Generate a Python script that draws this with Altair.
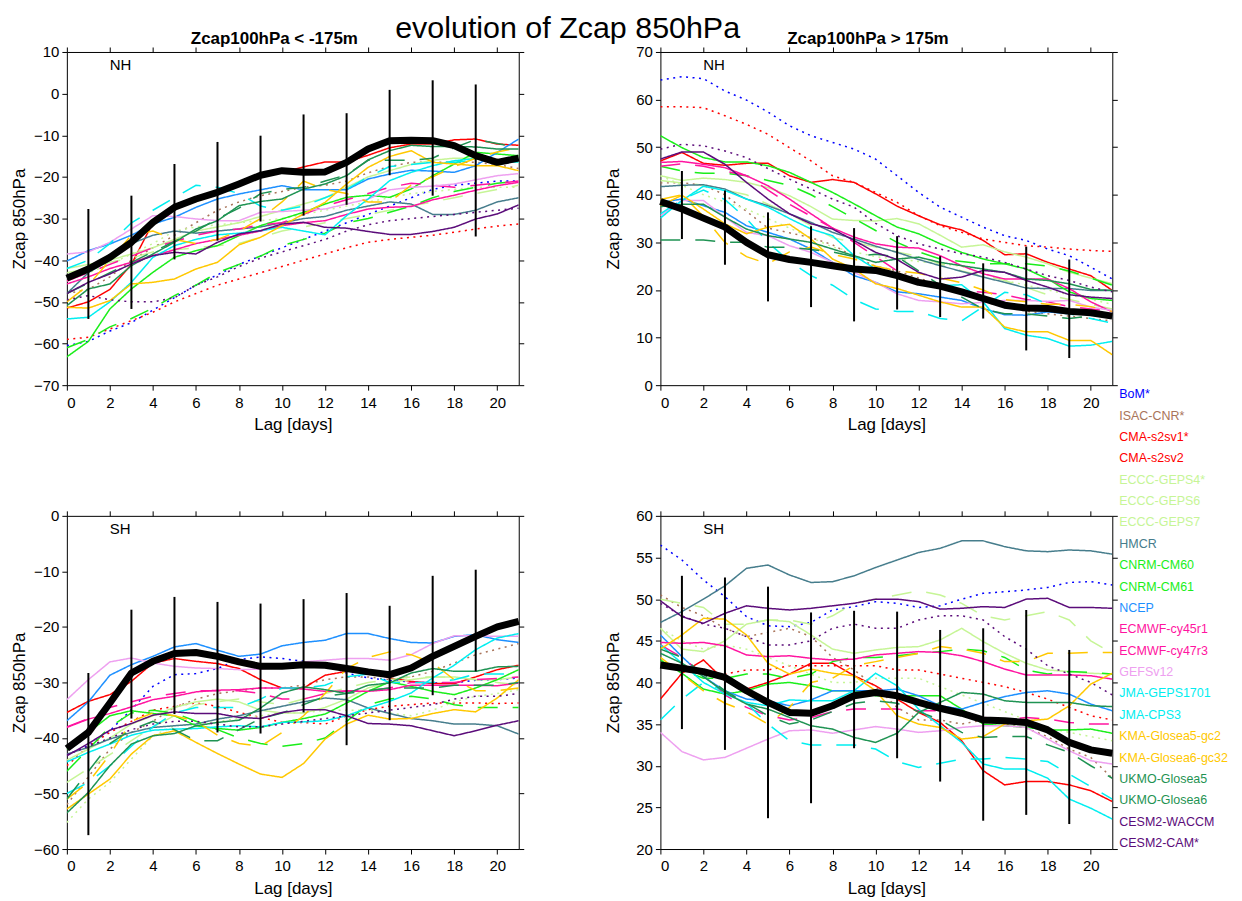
import altair as alt
import pandas as pd

MODELS = ["BoM*", "ISAC-CNR*", "CMA-s2sv1*", "CMA-s2sv2", "ECCC-GEPS4*", "ECCC-GEPS6",
          "ECCC-GEPS7", "HMCR", "CNRM-CM60", "CNRM-CM61", "NCEP", "ECMWF-cy45r1",
          "ECMWF-cy47r3", "GEFSv12", "JMA-GEPS1701", "JMA-CPS3", "KMA-Glosea5-gc2",
          "KMA-Glosea6-gc32", "UKMO-Glosea5", "UKMO-Glosea6", "CESM2-WACCM", "CESM2-CAM*"]
COLORS = ["#0000ff", "#a9745a", "#ff0000", "#ff0000", "#c6f596", "#c6f596", "#c6f596",
          "#467d8c", "#1aee1a", "#1aee1a", "#1e90ff", "#ff14a0", "#ff14a0", "#eea0f0",
          "#00eef0", "#00eef0", "#ffc800", "#ffc800", "#1f9353", "#1f9353", "#5b0c7a", "#5b0c7a"]
STYLE = ["dot", "dot", "dot", "solid", "dot", "dash", "solid", "solid", "dash", "solid", "solid",
         "dash", "solid", "solid", "dash", "solid", "dash", "solid", "dash", "solid", "solid", "dot"]

LAGS = list(range(22))
ERR_LAGS = [1, 3, 5, 7, 9, 11, 13, 15, 17, 19]
X_TICKS = list(range(0, 21, 2))

# ---------------- NH, Zcap100hPa < -175m ----------------
NH_NEG = {
    "BoM*": [-60.5, -59.5, -57, -55, -52, -49, -46, -43.5, -41, -39, -37, -35, -33, -31, -29, -27, -25, -23, -22, -21.5, -21, -21],
    "ISAC-CNR*": [-48, -47, -44, -40, -37, -34, -31, -28, -26, -24.5, -23.5, -22.5, -22, -21, -19, -17.5, -16.5, -16.5, -16.5, -16.5, -17, -18],
    "CMA-s2sv1*": [-59, -58.5, -56.5, -54.5, -52.5, -50, -48, -46, -44.5, -43, -41.5, -40, -38.5, -37, -35.7, -35, -34.5, -34, -33.3, -32.5, -31.8, -31.3],
    "CMA-s2sv2": [-51.5, -50, -47, -41, -31, -27.5, -25.5, -24, -21.5, -19.5, -19, -17.6, -16.4, -16.4, -14.8, -13, -12.1, -12.1, -11.1, -10.9, -12.1, -12.4],
    "ECCC-GEPS4*": [-45, -43, -41, -38.5, -36, -33, -32, -31.5, -31, -30.5, -30, -29, -28, -27, -26, -25, -24, -23.5, -23, -22.5, -22.5, -22.5],
    "ECCC-GEPS6": [-43, -42, -40.5, -39.5, -38, -37.5, -37, -36.5, -36, -34.5, -33, -32, -31, -30, -29, -28, -27, -26, -25, -24, -23, -22],
    "ECCC-GEPS7": [-42, -41, -40, -38.5, -37, -35, -33, -32, -31, -29.5, -28, -26.5, -25, -22.5, -20, -18.5, -17, -16, -15.5, -15.5, -16, -16.5],
    "HMCR": [-48, -43, -40, -36, -34, -33, -33.5, -33, -32.5, -32, -31, -30, -29.5, -28, -27, -26, -26.5, -29, -29, -28, -26, -25],
    "CNRM-CM60": [-61, -59, -56, -54, -51.5, -48.5, -46, -43, -41, -39, -36.5, -35, -33.5, -31, -30, -28.5, -27, -25, -23.5, -22.5, -21.5, -21],
    "CNRM-CM61": [-63.2, -59.5, -51.7, -46.9, -42.9, -39.3, -37.7, -36.5, -34.1, -31.7, -30.1, -28.5, -26.5, -24.9, -24.4, -24.9, -22.9, -19.7, -16.9, -14.1, -14.5, -14.9],
    "NCEP": [-40.2, -37.7, -36.1, -34, -31.3, -29.7, -27.3, -25.3, -24.1, -23.1, -22.1, -23.1, -23.1, -23.1, -20.5, -19.3, -18.4, -18.6, -18.9, -17.3, -14.1, -10.9],
    "ECMWF-cy45r1": [-45, -43, -41, -39, -37, -35.5, -34, -33, -32.5, -31.5, -31, -29, -27, -25.5, -24, -22.5, -21.5, -22, -22.5, -22, -21.5, -21],
    "ECMWF-cy47r3": [-45.7, -44, -42, -40.5, -38.9, -37.5, -36, -35, -34, -33, -31.7, -31, -30.5, -29, -27.7, -27.3, -27.1, -25.5, -24.4, -23.2, -22.1, -21.3],
    "GEFSv12": [-38.5, -38, -35.7, -32.5, -29.3, -29.5, -30.1, -30.5, -30.5, -28.5, -28.3, -28, -27.7, -26.5, -25.3, -23.1, -22.5, -22.2, -21.7, -20.7, -19.7, -19.2],
    "JMA-GEPS1701": [-42, -40, -36, -31, -28, -25, -22, -22.5, -24, -27, -28, -27, -25, -23, -20, -17.5, -17, -16.5, -16.5, -16, -16, -16],
    "JMA-CPS3": [-54.1, -53.7, -50, -45.3, -39.3, -36.5, -35, -33.9, -33.5, -32.9, -32.1, -33, -33.9, -29.3, -25.3, -20.9, -18.9, -17.3, -16.1, -15.6, -16.4, -16.4],
    "KMA-Glosea5-gc2": [-50, -46, -40, -34, -33, -35, -36, -35, -33, -30, -26, -21, -23, -24, -26, -26, -22, -20, -17.5, -15.5, -14, -13],
    "KMA-Glosea6-gc32": [-51.3, -51.5, -49.7, -45.7, -45.3, -44.5, -42.1, -40.5, -36.3, -34.5, -31.7, -28.9, -26.1, -21.7, -17.7, -15.1, -13.7, -16.5, -16.9, -17.3, -17.3, -18.5],
    "UKMO-Glosea5": [-48, -45.5, -43, -40.5, -38, -35.5, -33, -30, -27.5, -24, -23, -22.5, -21, -19.5, -16, -16, -16, -15.5, -13, -11, -12, -13],
    "UKMO-Glosea6": [-50.9, -46.9, -45.7, -41.3, -38.5, -35.7, -32.5, -30.5, -26.9, -25.9, -25.3, -22.9, -21.7, -19.7, -15.9, -13.7, -12.4, -12.7, -12.7, -12.8, -13.3, -13.3],
    "CESM2-WACCM": [-48, -45.3, -43.3, -40.9, -38.9, -38.1, -38.5, -35.7, -33.7, -32.9, -31.3, -30.9, -32.1, -32.3, -33.1, -33.8, -33.8, -33.1, -32.1, -30.1, -28.9, -26.7],
    "CESM2-CAM*": [-49.5, -48.5, -49.5, -50, -50, -49, -46, -44, -41.5, -39.5, -38, -36.5, -35, -33, -31.5, -30.5, -30, -29.5, -29, -28.5, -28, -27.5],
}
NH_NEG_MEAN = [-44.3, -42.1, -39.3, -35.7, -30.9, -27.3, -25.3, -23.7, -21.7, -19.6, -18.5, -18.9, -18.8, -16.5, -13.3, -11.3, -11.2, -11.3, -12.5, -14.9, -16.5, -15.5]
NH_NEG_LO = [-54.1, -51.7, -39.8, -35.3, -30.7, -29.3, -26.7, -19.6, -24.5, -34.3]
NH_NEG_HI = [-27.7, -24.5, -16.9, -11.6, -10.1, -5.0, -4.7, 0.9, 3.2, 2.2]

# ---------------- NH, Zcap100hPa > 175m ----------------
NH_POS = {
    "BoM*": [64.1, 64.8, 64.4, 61.8, 59.9, 57.4, 54.5, 52.4, 51, 49.6, 47.5, 44, 40.5, 37.4, 35.3, 33.2, 31.4, 30.4, 28.6, 27.2, 24.8, 22.3],
    "ISAC-CNR*": [42.5, 42.5, 42, 40, 36.5, 33, 32, 31, 29.5, 27, 25, 24, 22.5, 21, 19.5, 17.5, 16.5, 15.5, 15, 14.5, 14, 13.5],
    "CMA-s2sv1*": [58.5, 58.5, 58.3, 56.6, 54.8, 52.7, 49.9, 47.1, 44, 42.6, 40.5, 38.4, 35.6, 33.5, 32.1, 30.7, 30, 29.3, 29, 28.6, 28.3, 28.1],
    "CMA-s2sv2": [47.1, 48.9, 46.6, 46.2, 46.6, 46.6, 44, 42.6, 43.2, 42.6, 40.2, 37.6, 35.6, 33.7, 32.6, 30.4, 27.4, 27.6, 25.8, 24.4, 23, 19.9],
    "ECCC-GEPS4*": [44, 42, 40, 38.5, 37, 35, 33, 31, 29, 28, 27, 26.5, 26, 25.5, 25, 23.5, 22, 21, 20, 19, 18, 17],
    "ECCC-GEPS6": [43, 42.5, 42, 41, 40, 38, 36, 33.5, 31, 30, 29, 28, 27, 25.5, 24, 23, 22, 20.5, 19, 18, 17, 16],
    "ECCC-GEPS7": [44, 43, 43.5, 43.2, 42.6, 41.5, 39.8, 37.5, 34.9, 34.6, 34.5, 35, 33.9, 31.5, 29, 29.5, 28, 26.9, 25.5, 23.7, 22.5, 21.3],
    "HMCR": [41.7, 42, 42.1, 41.2, 39.1, 37.7, 36, 34.2, 32.1, 30.7, 29.2, 27.9, 26.4, 25.1, 23.9, 22.7, 21.6, 20.4, 20.3, 20.3, 19.9, 19.9],
    "CNRM-CM60": [46, 45, 44.5, 44.5, 44, 43, 42, 40, 37.5, 35, 32.5, 30, 28, 26.5, 26, 25.5, 25.5, 25.5, 25, 24, 22.5, 21],
    "CNRM-CM61": [52.4, 49.9, 47.8, 46.9, 46.9, 46.1, 44.7, 42.6, 40.5, 38.1, 35.6, 33.2, 31.8, 29.7, 27.9, 26.5, 25.5, 24.4, 22.3, 19.6, 18.2, 17.8],
    "NCEP": [38.4, 39.1, 37.7, 36.3, 33.5, 32.1, 30.7, 28.6, 25.8, 23, 21.6, 19.6, 19.2, 18.5, 17.8, 16.1, 14.8, 14.7, 15.4, 15, 15, 14.3],
    "ECMWF-cy45r1": [46, 46.5, 46, 45, 44, 41, 38, 35.5, 33, 30, 27, 24, 21.5, 20.5, 20, 19.5, 19, 18, 17.5, 16.5, 16, 15.5],
    "ECMWF-cy47r3": [46.8, 47, 46.4, 45.7, 44, 41.9, 39.1, 36, 33, 31.1, 29.7, 29, 28.8, 27.2, 25.1, 23.4, 22.3, 22.3, 22.3, 20.3, 17.5, 15.4],
    "GEFSv12": [35.6, 38.8, 38.8, 35.3, 32.1, 31.4, 29.3, 27.9, 25.8, 23.7, 21.6, 19.2, 17.8, 17.5, 17.1, 17.4, 17.8, 17.8, 17.6, 17.8, 16.4, 15.7],
    "JMA-GEPS1701": [36, 39, 41, 39, 35, 30, 26, 23, 21, 18, 16, 15.5, 15.5, 14, 13.5, 16.5, 19.5, 19, 17, 15, 14, 13],
    "JMA-CPS3": [35.1, 38.8, 41.8, 40.9, 39.1, 37.4, 35, 32.8, 31.4, 27.2, 24.4, 23, 21.6, 20.9, 21.1, 17.5, 11.9, 10.5, 9.8, 8.2, 8.4, 9.2],
    "KMA-Glosea5-gc2": [39, 40, 35.5, 30, 27, 25.5, 28, 29, 27.5, 26.5, 25, 24, 23.5, 22.5, 21.5, 20, 18, 17.5, 17, 17, 16.5, 15.5],
    "KMA-Glosea6-gc32": [37.7, 39.9, 37, 33.9, 31.8, 33.2, 33.8, 30.7, 26.5, 24.4, 21.3, 20.3, 18.9, 17.5, 16.4, 16.4, 12.2, 11.2, 11.2, 9.4, 9.4, 6.4],
    "UKMO-Glosea5": [30.5, 30.5, 30.5, 30, 30, 29, 29, 28.5, 28, 27, 27.5, 27, 24, 21, 18.5, 16, 15, 15, 14.5, 14, 14.5, 14.5],
    "UKMO-Glosea6": [37.5, 38, 38, 35.3, 32.8, 31.4, 30.7, 30, 28.6, 27.2, 25.8, 26.5, 26.9, 25.8, 25.1, 24.4, 23.7, 22.3, 22, 21.3, 20.1, 19.9],
    "CESM2-WACCM": [47.5, 49, 49, 46.4, 42.6, 39.1, 36, 33.9, 32.8, 30.4, 27.9, 26.4, 23.7, 22.3, 22.7, 24.1, 23.7, 22, 20.6, 19, 18.5, 18.2],
    "CESM2-CAM*": [49.6, 50.6, 50.3, 49.2, 47.8, 45.5, 43.3, 41.2, 39.1, 37.4, 34, 31.4, 29.7, 28.6, 27.6, 26.9, 25.8, 24.4, 23, 22, 20.6, 19.6],
}
NH_POS_MEAN = [38.6, 37.0, 35.1, 33.2, 30.0, 27.4, 26.4, 25.8, 25.1, 24.4, 24.1, 23.0, 21.6, 20.8, 19.6, 18.2, 16.8, 16.2, 16.1, 15.5, 15.2, 14.5]
NH_POS_LO = [30.7, 25.3, 17.6, 16.4, 13.4, 15.9, 14.3, 14.0, 7.3, 5.7]
NH_POS_HI = [45.0, 40.9, 36.3, 33.4, 33.0, 31.3, 27.1, 25.6, 29.1, 26.4]

# ---------------- SH, Zcap100hPa < -175m ----------------
SH_NEG = {
    "BoM*": [-43, -41.4, -38.7, -34.9, -30.7, -28.6, -28.4, -27.5, -25.9, -25.4, -25.7, -26.2, -26.8, -28.3, -29.2, -29.6, -29.9, -30.1, -30.1, -29.6, -29.5, -29.2],
    "ISAC-CNR*": [-52, -47, -42, -39, -37, -34.5, -33, -32, -31.5, -31, -31, -30.5, -29.5, -29, -29, -29.5, -29, -28, -26.5, -25, -24, -23],
    "CMA-s2sv1*": [-45, -41.5, -39, -37, -35, -34.3, -33.7, -34.3, -35.4, -36.3, -37.2, -37.2, -37.5, -36, -34.9, -34.3, -34, -33.7, -33.7, -33.7, -33.8, -33.7],
    "CMA-s2sv2": [-35.4, -33.4, -32.2, -29.8, -26.5, -25.7, -26.2, -26.6, -27.5, -29.5, -31, -31, -28.7, -28, -28, -29.2, -29.8, -30.2, -30.2, -29, -27.7, -26.9],
    "ECCC-GEPS4*": [-55.2, -51, -48, -43.8, -39.6, -37.8, -37.5, -37, -36.5, -36, -35.5, -35.5, -35, -35, -35, -35.5, -36, -35, -33.5, -32.5, -32, -31.3],
    "ECCC-GEPS6": [-48, -45.5, -43, -40.5, -38, -36, -34, -33.5, -33, -33.5, -34, -33, -32, -31, -30, -29.5, -29, -29, -29, -29.5, -30, -30.5],
    "ECCC-GEPS7": [-44, -42, -40, -37.5, -36, -34.5, -33.5, -33, -33.5, -35, -35.5, -35.5, -34.5, -33, -31, -30, -29.5, -29, -29, -29.5, -29.5, -29],
    "HMCR": [-42.9, -41.7, -40.2, -39, -38.1, -37.8, -37.5, -36.6, -36, -35.1, -34.3, -33.5, -32.8, -33.1, -34.6, -35.6, -36.5, -36.9, -37.5, -37.5, -37.8, -39.3],
    "CNRM-CM60": [-46, -42, -38, -35.5, -35, -35.5, -37, -38.5, -40, -41, -41.5, -41, -40, -37, -34, -33, -32.5, -33, -34, -34.5, -34.5, -34.5],
    "CNRM-CM61": [-42, -39, -36, -35.1, -35.6, -36, -37.8, -38.3, -38.6, -38.1, -37.2, -36.5, -35.7, -33.7, -31.6, -29.9, -30.7, -31.6, -32.2, -31, -29.5, -27.7],
    "NCEP": [-36.9, -33.5, -28.7, -26.8, -25.3, -23.6, -23, -24.2, -25.3, -24.9, -23.4, -22.8, -22.4, -21.2, -21.2, -22.1, -22.8, -22.9, -21.7, -21.4, -22.3, -22.8],
    "ECMWF-cy45r1": [-38, -36.5, -34.5, -33.5, -32.5, -32, -31.5, -31.5, -31.5, -32, -33, -33, -32, -31.5, -31.5, -31, -30, -30, -30, -29.5, -29.3, -29],
    "ECMWF-cy47r3": [-38.1, -36.6, -35.6, -34.4, -33.1, -32.5, -31.7, -31.4, -31.3, -31, -31, -31.2, -31.6, -31.6, -31.6, -31.3, -30.5, -30.5, -30.5, -30.5, -30.6, -30.1],
    "GEFSv12": [-33.1, -29.5, -26.3, -25.6, -26.5, -27.1, -27.4, -27.5, -27.7, -27.6, -27.1, -26.3, -26, -25.7, -25.7, -26, -25, -23, -21.6, -21.6, -21.7, -21.7],
    "JMA-GEPS1701": [-50, -48, -45, -41.5, -38, -35.5, -34.5, -34.5, -34.5, -33, -31, -31, -30.5, -29, -28.5, -30, -30, -30, -29.5, -28.5, -28.5, -28.5],
    "JMA-CPS3": [-44.3, -42.6, -41.1, -39.5, -38.6, -38.4, -38.3, -38, -37.8, -38, -37.2, -37.1, -36.9, -36, -34.6, -33.4, -31.9, -29.2, -26.9, -24.1, -22, -21.2],
    "KMA-Glosea5-gc2": [-51, -48, -43, -37, -35.5, -36, -37, -39.5, -41, -41.5, -39, -36, -32, -27.5, -25.5, -24.5, -25, -26.5, -29.5, -31.5, -31.5, -31],
    "KMA-Glosea6-gc32": [-52.8, -50.1, -47.4, -42.9, -39.6, -38.7, -40.8, -42.8, -44.7, -46.5, -47.1, -44.6, -40.2, -37.5, -35.9, -36.6, -36.5, -35.6, -34.9, -35.3, -32.8, -29.5],
    "UKMO-Glosea5": [-51, -46, -41, -38.5, -37, -38.5, -40.5, -40.5, -38.5, -36.5, -35.5, -34, -32.5, -32, -31.5, -31, -31, -31, -30.5, -30.5, -30.5, -30],
    "UKMO-Glosea6": [-53.5, -49.8, -45, -41.1, -39.6, -39.2, -37.8, -37.2, -36.8, -34.6, -31.9, -30.8, -31.3, -32, -30.5, -30.1, -28.3, -27.5, -28, -28, -27.2, -27.1],
    "CESM2-WACCM": [-43.2, -41, -38.6, -37.4, -35.9, -35.3, -35.6, -35.6, -36.3, -36.5, -35.4, -34.9, -34.9, -36, -37.4, -37.5, -37.8, -38.7, -39.6, -38.7, -37.7, -36.9],
    "CESM2-CAM*": [-43, -41.5, -40, -38.5, -37.5, -37, -37, -37.5, -38, -38, -37.5, -37, -36.5, -36, -35.5, -35, -34.5, -34, -33, -32.5, -32.5, -32],
}
SH_NEG_MEAN = [-41.9, -39.0, -33.7, -28.3, -26.2, -24.8, -24.6, -25.3, -26.3, -27.1, -27.1, -26.8, -26.9, -27.5, -28.1, -28.6, -27.4, -25.3, -23.5, -21.7, -20.0, -19.0]
SH_NEG_LO = [-57.5, -36.5, -35.7, -39.0, -39.2, -35.4, -41.3, -36.8, -32.3, -28.0]
SH_NEG_HI = [-28.3, -16.9, -14.6, -15.5, -15.8, -15.0, -13.9, -16.2, -10.8, -9.7]

# ---------------- SH, Zcap100hPa > 175m ----------------
SH_POS = {
    "BoM*": [56.5, 54.7, 52.3, 50.3, 47.9, 46.8, 46.7, 47.2, 48.7, 49.1, 49.7, 49.5, 49, 49.2, 50, 50.7, 50.9, 51.1, 51.4, 52, 52.1, 51.7],
    "ISAC-CNR*": [50.5, 49, 48, 46.5, 45.5, 46, 46.5, 45.5, 43, 41.5, 39.5, 37, 35.5, 35.5, 35, 35.5, 35, 34.5, 33.5, 32, 31, 28.5],
    "CMA-s2sv1*": [42, 41.5, 41, 41, 41.5, 41.5, 42, 42, 42, 42, 42, 41.5, 41.5, 41, 40.5, 40, 39.5, 38.8, 38, 37, 36, 35.5],
    "CMA-s2sv2": [38, 41.1, 42.7, 40.2, 39.2, 40, 41, 42.3, 42.3, 40.8, 39.6, 38, 36.4, 35.2, 33, 29.4, 27.7, 28.1, 28.1, 27.7, 27, 25.7],
    "ECCC-GEPS4*": [46.5, 45, 44, 44.5, 44, 43, 42, 41, 40, 40, 40.5, 40.5, 40.5, 39.5, 38.5, 37.5, 36.5, 35.5, 34.5, 34, 33.5, 33],
    "ECCC-GEPS6": [50, 49.5, 49, 47, 47, 47.5, 47.5, 47, 48, 49.5, 50, 50.5, 51, 50.5, 49.5, 48, 47.5, 48, 48.5, 47.5, 45, 43.5],
    "ECCC-GEPS7": [46.5, 44, 43.7, 45, 47, 47.5, 47.3, 45.7, 44, 43.5, 43.9, 44.2, 44.3, 45.1, 46.5, 44.9, 43.5, 42.3, 41.5, 41.3, 41.1, 41],
    "HMCR": [47.2, 48.5, 50, 51.6, 53.7, 54.1, 52.9, 52, 52.1, 52.8, 53.8, 54.7, 55.6, 56.1, 57, 57, 56.3, 55.8, 55.7, 55.9, 55.8, 55.4],
    "CNRM-CM60": [42, 41.5, 40.5, 40.5, 41, 41, 40.5, 41, 42.5, 43, 43, 43.2, 43.5, 43.7, 44, 43.8, 43, 41.5, 41, 41.3, 41.2, 41],
    "CNRM-CM61": [42.7, 41.1, 39.2, 38.6, 39, 39.8, 40, 39.6, 39, 39, 38.4, 38.4, 38.4, 38.4, 36.8, 35, 34.8, 34.6, 34.3, 34.3, 34.4, 33.9],
    "NCEP": [45.7, 43.1, 40.7, 39, 38, 37.8, 37.2, 37.9, 39, 39, 39, 39.2, 38.4, 37.2, 36.8, 37.6, 38.3, 38.8, 39, 38.6, 37.4, 36.6],
    "ECMWF-cy45r1": [44.5, 43, 41, 38.5, 37, 36, 35.5, 35.8, 36.5, 36.8, 36.8, 36.8, 36.6, 36.6, 36.5, 35.8, 35.5, 35.8, 35.6, 35.2, 35, 35],
    "ECMWF-cy47r3": [44.8, 44.7, 44.8, 44.4, 43.3, 43.1, 43.2, 42.9, 42.7, 42.8, 43.3, 43.5, 43.7, 43.6, 43.2, 42.5, 41.6, 40.9, 40.9, 40.9, 40.8, 40.4],
    "GEFSv12": [34, 31.7, 30.7, 31, 32.1, 33.2, 34.2, 34.3, 33.9, 34.3, 34.7, 34.4, 34, 34.2, 34.6, 34.8, 34.8, 34.6, 33.2, 31.8, 30.6, 30.2],
    "JMA-GEPS1701": [35.5, 38, 40, 39, 37.5, 35, 33, 32.5, 32.5, 32.5, 32, 30.5, 29.8, 30.3, 30.8, 30.8, 31, 30.8, 30.5, 29, 27.5, 26],
    "JMA-CPS3": [44.5, 42.3, 40, 38.6, 37.6, 37.2, 37.9, 37.8, 37.8, 39, 41.1, 39.6, 36.8, 34.8, 32.8, 30.2, 29.6, 29.6, 28.5, 26, 24.9, 23.6],
    "KMA-Glosea5-gc2": [43, 41, 39, 37.5, 36.5, 35, 37, 40, 40.5, 42, 42.5, 43, 43.5, 44.3, 44, 43.5, 42.5, 42.5, 43.5, 43.5, 43.6, 43.6],
    "KMA-Glosea6-gc32": [44, 45.7, 47.7, 47.6, 45.7, 42.3, 41, 41.6, 41.1, 40.8, 39, 36, 35, 34.6, 33.2, 33.5, 35, 35.4, 35.6, 37.2, 39.8, 41.1],
    "UKMO-Glosea5": [44, 43, 41, 39, 37.5, 36, 35, 35.5, 36.5, 37.5, 37.8, 37.5, 36.5, 35.5, 34, 33.4, 33.5, 33.5, 32.5, 31.6, 30, 28.5],
    "UKMO-Glosea6": [43.5, 42.3, 40.7, 38.8, 37.4, 36.8, 35.8, 34.8, 34.4, 33.4, 32.8, 33.9, 36.4, 37.6, 38.8, 38.6, 37.8, 37.6, 37.6, 37.6, 37.2, 37.1],
    "CESM2-WACCM": [49.8, 47.9, 47.1, 48.3, 49.2, 48.9, 48.7, 48.9, 49.2, 49.5, 50, 50, 49.7, 48.8, 48.9, 49.1, 49, 50, 50.1, 49, 49, 48.9],
    "CESM2-CAM*": [49.5, 48, 47, 46.5, 45.5, 44.5, 44.5, 45, 46.5, 47, 46.5, 46.5, 47.5, 48, 48, 47.5, 45.5, 44, 42, 41, 40, 38.5],
}
SH_POS_MEAN = [42.1, 41.7, 41.3, 40.6, 39.0, 37.6, 36.4, 36.3, 37.2, 38.4, 38.8, 38.4, 37.6, 36.9, 36.3, 35.5, 35.4, 35.2, 34.3, 32.8, 31.9, 31.5]
SH_POS_LO = [34.4, 31.9, 23.7, 25.5, 32.1, 30.9, 28.1, 23.4, 24.1, 23.0]
SH_POS_HI = [52.8, 52.6, 51.5, 48.4, 48.6, 48.5, 46.3, 46.5, 48.7, 43.9]

TITLE = "evolution of Zcap 850hPa"
FONT = "Liberation Sans"
W, H = 453, 334

DASH_MAP = {"solid": [1, 0], "dot": [2, 4.5], "dash": [20, 15]}
DASHES = [DASH_MAP[s] for s in STYLE]


def panel(data, mean, lo, hi, ydom, yvals, hemi, subtitle=None, main_title=False, legend=False):
    rows = [{"model": m, "lag": l, "v": v} for m in MODELS for l, v in zip(LAGS, data[m])]
    df = pd.DataFrame(rows)
    mdf = pd.DataFrame({"lag": LAGS, "v": mean})
    edf = pd.DataFrame({"lag": ERR_LAGS, "lo": lo, "hi": hi})
    xs = alt.Scale(domain=[0, 21], nice=False, zero=False)
    ys = alt.Scale(domain=ydom, nice=False, zero=False)

    lines = alt.Chart(df).mark_line(strokeWidth=1.5, clip=True).encode(
        x=alt.X("lag:Q", scale=xs, axis=alt.Axis(values=X_TICKS, title="Lag [days]",
                                                  labelPadding=5, titlePadding=1.5)),
        y=alt.Y("v:Q", scale=ys, axis=alt.Axis(values=yvals, title="Zcap 850hPa",
                                                labelPadding=3, titlePadding=8)),
        color=alt.Color("model:N", scale=alt.Scale(domain=MODELS, range=COLORS), legend=None),
        strokeDash=alt.StrokeDash("model:N", scale=alt.Scale(domain=MODELS, range=DASHES), legend=None),
    )
    errs = alt.Chart(edf).mark_rule(color="black", strokeWidth=2).encode(
        x=alt.X("lag:Q", axis=None), y=alt.Y("lo:Q", axis=None), y2="hi:Q")
    meanl = alt.Chart(mdf).mark_line(color="black", strokeWidth=7, strokeJoin="round").encode(
        x=alt.X("lag:Q", axis=None), y=alt.Y("v:Q", axis=None))
    hemi_t = alt.Chart(pd.DataFrame({"t": [hemi]})).mark_text(
        align="left", baseline="middle", fontSize=15, font=FONT, color="black").encode(
        text="t:N", x=alt.value(43), y=alt.value(13))
    frame = alt.Chart(mdf).mark_point(opacity=0).encode(
        x=alt.X("lag:Q", axis=alt.Axis(orient="top", values=X_TICKS, labels=False, title=None)),
        y=alt.Y("v:Q", axis=alt.Axis(orient="right", values=yvals, labels=False, title=None)))
    layers = [lines, errs, meanl, hemi_t, frame]
    if subtitle:
        layers.append(alt.Chart(pd.DataFrame({"t": [subtitle]})).mark_text(
            align="center", baseline="middle", fontSize=17, fontWeight="bold", font=FONT,
            color="black").encode(text="t:N", x=alt.value(208), y=alt.value(-13)))
    if main_title:
        layers.append(alt.Chart(pd.DataFrame({"t": [TITLE]})).mark_text(
            align="center", baseline="alphabetic", fontSize=30.5, font=FONT,
            color="black").encode(text="t:N", x=alt.value(502), y=alt.value(-14)))
    if legend:
        ldf = pd.DataFrame({"model": MODELS, "hex": COLORS, "i": list(range(len(MODELS)))})
        ldf["ypix"] = -122 + ldf["i"] * 21.43
        layers.append(alt.Chart(ldf).mark_text(
            align="left", baseline="middle", fontSize=12.5, font=FONT).encode(
            text="model:N", x=alt.value(460),
            y=alt.Y("ypix:Q", scale=None, axis=None),
            color=alt.Color("hex:N", scale=None)))
    return alt.layer(*layers).resolve_axis(x="independent", y="independent").properties(width=W, height=H)


tl = panel(NH_NEG, NH_NEG_MEAN, NH_NEG_LO, NH_NEG_HI, [-70, 10], list(range(-70, 11, 10)), "NH",
           subtitle="Zcap100hPa < -175m", main_title=True)
tr = panel(NH_POS, NH_POS_MEAN, NH_POS_LO, NH_POS_HI, [0, 70], list(range(0, 71, 10)), "NH",
           subtitle="Zcap100hPa > 175m")
bl = panel(SH_NEG, SH_NEG_MEAN, SH_NEG_LO, SH_NEG_HI, [-60, 0], list(range(-60, 1, 10)), "SH")
br = panel(SH_POS, SH_POS_MEAN, SH_POS_LO, SH_POS_HI, [20, 60], list(range(20, 61, 5)), "SH", legend=True)

chart = alt.concat(tl, tr, bl, br, columns=2, spacing={"row": 131, "column": 142}, bounds="flush").properties(
    padding={"left": 2, "top": 4, "right": 5, "bottom": 0}
).configure(font=FONT).configure_view(stroke="transparent").configure_axis(
    domainColor="black", tickColor="black", labelColor="black", titleColor="black",
    labelFont=FONT, titleFont=FONT, labelFontSize=15, titleFontSize=17, titleFontWeight="normal",
    grid=False, tickSize=5, minExtent=30, maxExtent=30,
)

chart.save("out.html", embed_options={"renderer": "svg", "actions": False})
